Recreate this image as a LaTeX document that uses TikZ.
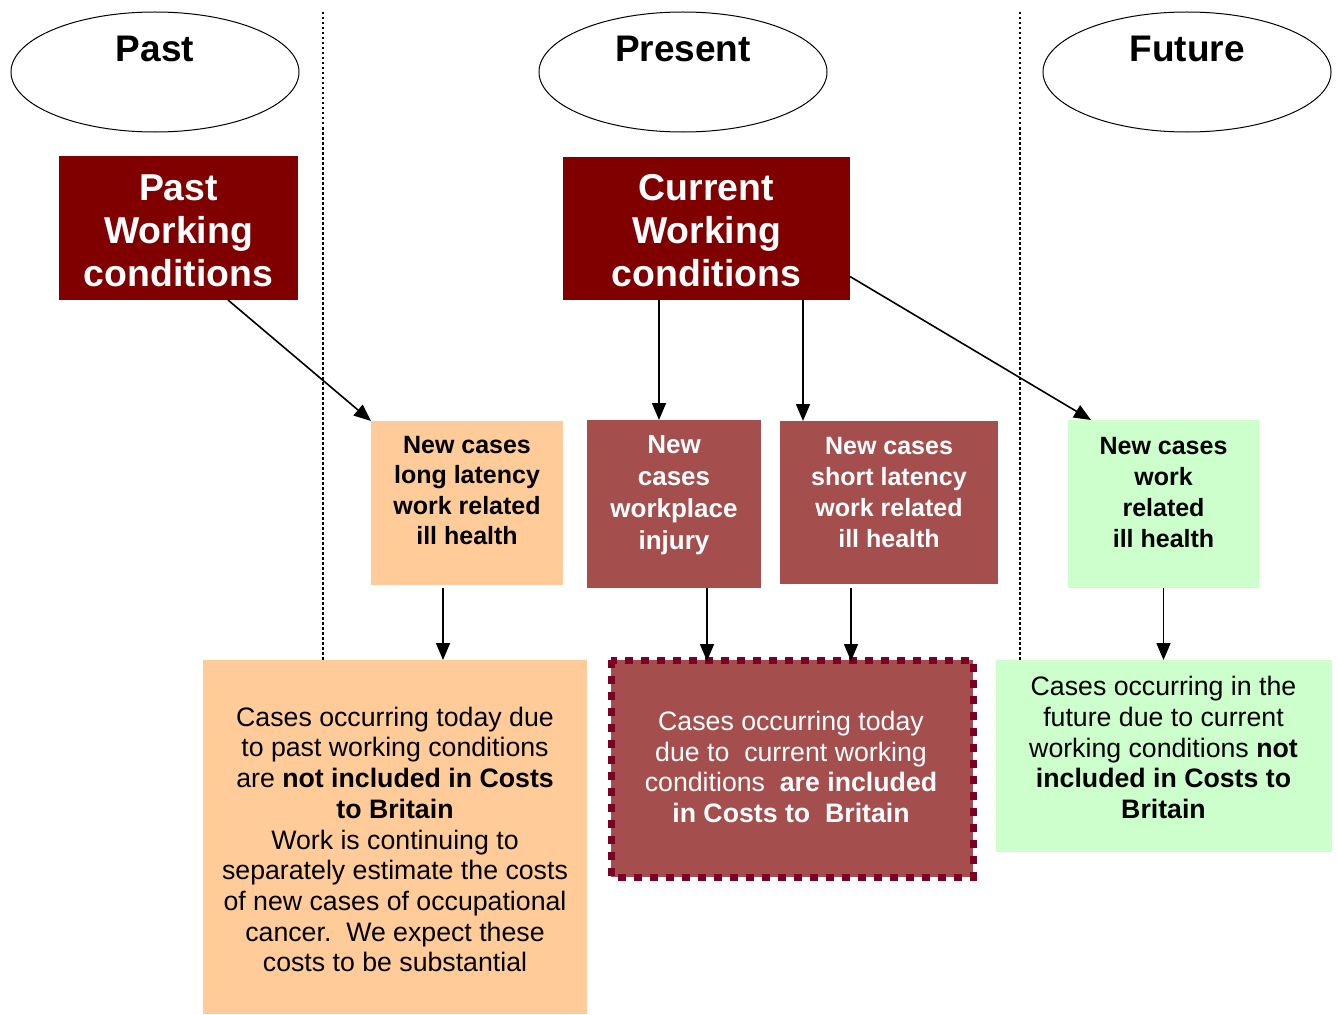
\documentclass[tikz,border=0pt]{standalone}
\usepackage{fontspec}
\setmainfont{Liberation Sans}
\usetikzlibrary{arrows.meta,shapes.geometric}
\definecolor{darkred}{RGB}{128,0,0}
\definecolor{midred}{RGB}{165,78,78}
\definecolor{orangebox}{RGB}{255,204,153}
\definecolor{greenbox}{RGB}{204,255,204}
\definecolor{borderred}{RGB}{122,0,38}
\tikzset{
  era/.style={draw=black, line width=1pt, ellipse, minimum width=288pt, minimum height=120pt, inner sep=0pt},
  eratext/.style={font=\fontsize{37}{43}\selectfont\bfseries},
  condbox/.style={fill=darkred, text=white, inner sep=0pt, align=center, font=\fontsize{37.4}{43}\selectfont\bfseries},
  casebox/.style={inner sep=0pt, outer sep=0pt},
  casetext/.style={align=center, inner sep=0pt, font=\fontsize{25}{30.5}\selectfont\bfseries},
  resbox/.style={inner sep=0pt, outer sep=0pt},
  restext/.style={align=center, inner sep=0pt, font=\fontsize{26.7}{30.7}\selectfont},
  divider/.style={line width=2.5pt, dash pattern=on 2.5pt off 2.5pt},
  arr/.style={line width=1.6pt, -{Triangle[length=17pt,width=14pt]}},
}
\begin{document}
\begin{tikzpicture}[x=1pt,y=-1pt]
\useasboundingbox[fill=white] (0,0) rectangle (1337,1014);
% dividers
\coordinate (d1t) at (323,12); \coordinate (d1b) at (323,660);
\coordinate (d2t) at (1020,12); \coordinate (d2b) at (1020,660);
\draw[divider] (d1t) -- (d1b);
\draw[divider] (d2t) -- (d2b);
% ellipses
\node[era] (e1) at (155,72) {};
\node[era] (e2) at (683,72) {};
\node[era] (e3) at (1187,72) {};
\node[eratext] (t1) at (155,49) {Past};
\node[eratext] (t2) at (683,49) {Present};
\node[eratext] (t3) at (1187,49) {Future};
% condition boxes
\node[condbox, outer sep=0pt, minimum width=239pt, minimum height=144pt] (past) at (178.5,228) {};
\node[condbox] (pastt) at (178.5,231) {Past\\Working\\conditions};
\node[condbox, outer sep=0pt, minimum width=287pt, minimum height=143pt] (cur) at (706.5,228.5) {};
\node[condbox] (curt) at (706.5,231) {Current\\Working\\conditions};
% new cases boxes
\node[casebox, fill=orangebox, minimum width=192pt, minimum height=164pt] (long) at (467,503) {};
\node[casetext] (longt) at (467,490.5) {New cases\\long latency\\work related\\ill health};
\node[casebox, fill=midred, minimum width=174pt, minimum height=168pt] (inj) at (674,504) {};
\node[casetext, text=white, font=\fontsize{26}{32}\selectfont\bfseries] (injt) at (674,495) {New\\cases\\workplace\\injury};
\node[casebox, fill=midred, minimum width=218pt, minimum height=163pt] (short) at (889,502.5) {};
\node[casetext, text=white, font=\fontsize{25}{31}\selectfont\bfseries] (shortt) at (889,492.5) {New cases\\short latency\\work related\\ill health};
\node[casebox, fill=greenbox, minimum width=191pt, minimum height=168pt] (fut) at (1163.5,504) {};
\node[casetext, font=\fontsize{25}{31}\selectfont\bfseries] (futt) at (1163.5,492.5) {New cases\\work\\related\\ill health};
% result boxes
\node[resbox, fill=orangebox, minimum width=384pt, minimum height=354pt] (resp) at (395,837) {};
\node[restext] (respt) at (395,839.5) {Cases occurring today due\\to past working conditions\\are \textbf{not included in Costs}\\\textbf{to Britain}\\Work is continuing to\\separately estimate the costs\\of new cases of occupational\\cancer.\ \ We expect these\\costs to be substantial};
\node[resbox, fill=midred, minimum width=362pt, minimum height=217pt] (resc) at (792,768.5) {};
\draw[draw=borderred, line width=7pt, dash pattern=on 8pt off 8pt] (resc.north west) rectangle (resc.south east);
\node[restext, text=white] (resct) at (791,767) {Cases occurring today\\due to\ \ current working\\conditions\ \ \textbf{are included}\\\textbf{in Costs to\ \ Britain}};
\node[resbox, fill=greenbox, minimum width=336pt, minimum height=192pt] (resf) at (1163.5,756) {};
\node[restext] (resft) at (1163.5,747.5) {Cases occurring in the\\future due to current\\working conditions \textbf{not}\\\textbf{included in Costs to}\\\textbf{Britain}};
% arrows
\draw[arr] ([xshift=169pt]past.south west) -- (long.north west);
\draw[arr] ([xshift=96pt]cur.south west) -- ([xshift=72pt]inj.north west);
\draw[arr] ([xshift=240pt]cur.south west) -- ([xshift=23pt]short.north west);
\draw[arr] ([yshift=-48pt]cur.east) -- ([xshift=23pt]fut.north west);
\draw[arr] ([xshift=72pt,yshift=-3pt]long.south west) -- ([xshift=240pt]resp.north west);
\draw[arr] ([xshift=120pt]inj.south west) -- ([xshift=96pt,yshift=-1pt]resc.north west);
\draw[arr] ([xshift=71pt,yshift=-4pt]short.south west) -- ([xshift=240pt,yshift=-1pt]resc.north west);
\draw[arr] (fut.south) -- (resf.north);
\end{tikzpicture}
\end{document}
